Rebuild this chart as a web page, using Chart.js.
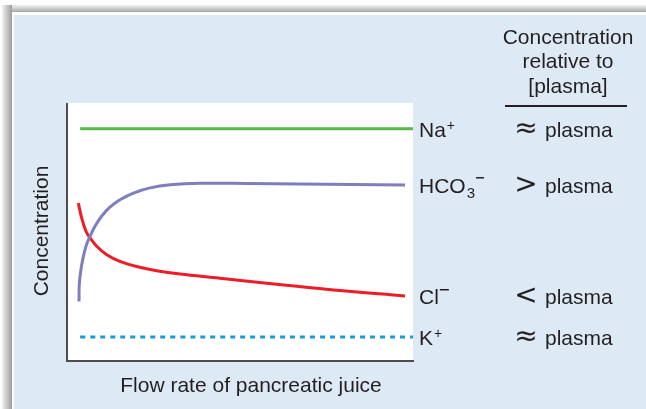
<!DOCTYPE html>
<html>
<head>
<meta charset="utf-8">
<title>Pancreatic juice electrolytes</title>
<script src="https://cdn.jsdelivr.net/npm/chart.js@4"></script>
<style>
    html, body { margin: 0; padding: 0; background: #fff; }
    canvas { display: block; }
</style>
</head>
<body>
<canvas id="ionChart" width="646" height="409"></canvas>
<script>
// Flow rate (x, arbitrary units 0-100) and concentration (y, arbitrary units 0-100)
const naFlow = [3.8, 100];
const naConc = [90, 90];

const hco3Flow = [3.47, 3.55, 3.96, 4.54, 5.49, 6.65, 8.09, 10.0, 12.4, 15.3, 19.2, 24.0, 29.8, 38.4, 52.9, 67.3, 97.7];
const hco3Conc = [23.1, 29.6, 34.8, 39.3, 44.5, 48.3, 52.2, 56.1, 59.6, 62.5, 65.1, 67.1, 68.3, 68.9, 68.8, 68.6, 68.2];

const clFlow = [3.27, 4.25, 5.49, 6.65, 8.58, 11.5, 15.3, 20.1, 25.9, 32.7, 44.2, 57.7, 77.0, 97.7];
const clConc = [61.2, 55.4, 50.3, 47.7, 44.5, 41.2, 38.6, 36.6, 35.0, 33.7, 32.1, 30.1, 27.5, 25.2];

const kFlow = [3.8, 100];
const kConc = [9.3, 9.3];

// Right hand column: ion name and how it compares to plasma
const ionNames = ['Na', 'HCO', 'Cl', 'K'];
const ionCompare = ['\u2248', '>', '<', '\u2248'];
const headerLines = ['Concentration', 'relative to', '[plasma]'];

const FONT = '"Liberation Sans", Arial, sans-serif';
const TEXT = '#231f20';

function toPoints(xs, ys) {
    return xs.map((x, i) => ({ x: x, y: ys[i] }));
}

// background panel, white plot box and the two axis lines
const panelPlugin = {
    id: 'panel',
    beforeDraw(chart) {
        const ctx = chart.ctx;
        const a = chart.chartArea;
        ctx.save();
        ctx.fillStyle = '#fff';
        ctx.fillRect(0, 0, chart.width, chart.height);

        // soft grey frame on the top and left
        let g = ctx.createLinearGradient(2, 0, 12, 0);
        g.addColorStop(0, '#f2f2f2');
        g.addColorStop(1, '#9c9c9c');
        ctx.fillStyle = g;
        ctx.fillRect(2, 5, 10, chart.height - 5);
        g = ctx.createLinearGradient(0, 5, 0, 12);
        g.addColorStop(0, '#f2f2f2');
        g.addColorStop(1, '#a8a8a8');
        ctx.fillStyle = g;
        ctx.fillRect(12, 5, chart.width - 12, 7);

        ctx.fillStyle = '#dde9f5';
        ctx.fillRect(14, 15, chart.width - 14, chart.height - 15);

        ctx.fillStyle = '#fff';
        ctx.fillRect(a.left, a.top, a.right - a.left, a.bottom - a.top);

        ctx.strokeStyle = '#4d4d4d';
        ctx.lineWidth = 2;
        ctx.beginPath();
        ctx.moveTo(a.left, a.top);
        ctx.lineTo(a.left, a.bottom);
        ctx.lineTo(a.right + 1, a.bottom);
        ctx.stroke();
        ctx.restore();
    }
};

// axis titles, ion labels and the comparison column
const labelPlugin = {
    id: 'labels',
    afterDraw(chart) {
        const ctx = chart.ctx;
        const a = chart.chartArea;
        const y = chart.scales.y;
        ctx.save();
        ctx.fillStyle = TEXT;
        ctx.font = '21px ' + FONT;

        // x title
        ctx.textAlign = 'center';
        ctx.textBaseline = 'middle';
        ctx.fillText('Flow rate of pancreatic juice', 251, 386);

        // y title
        ctx.save();
        ctx.translate(42, 231);
        ctx.rotate(-Math.PI / 2);
        ctx.fillText('Concentration', 0, 0);
        ctx.restore();

        // header of the right column
        headerLines.forEach((t, i) => ctx.fillText(t, 568, 38 + i * 24.5));
        ctx.strokeStyle = TEXT;
        ctx.lineWidth = 2;
        ctx.beginPath();
        ctx.moveTo(505, 106);
        ctx.lineTo(627, 106);
        ctx.stroke();

        const ends = [naConc, hco3Conc, clConc, kConc].map(arr => y.getPixelForValue(arr[arr.length - 1]));
        const lx = a.right + 6;
        ctx.textAlign = 'left';
        ctx.textBaseline = 'alphabetic';
        ends.forEach((py, i) => {
            const base = py + 8;
            ctx.font = '21px ' + FONT;
            ctx.fillText(ionNames[i], lx, base);
            let w = ctx.measureText(ionNames[i]).width;
            if (i === 1) {
                // HCO3- : subscript 3 then a raised minus
                ctx.font = '15px ' + FONT;
                ctx.fillText('3', lx + w + 1, base + 5);
                w += ctx.measureText('3').width + 2;
                ctx.fillRect(lx + w, base - 16, 8, 1.5);
            } else if (i === 2) {
                ctx.fillRect(lx + w + 1, base - 15, 9, 1.5);
            } else {
                ctx.font = '14px ' + FONT;
                ctx.fillText('+', lx + w + 1, base - 7);
            }

            ctx.font = '21px ' + FONT;
            ctx.fillText('plasma', 545, base);

            ctx.font = '28px "DejaVu Sans", sans-serif';
            ctx.textAlign = 'center';
            ctx.textBaseline = 'middle';
            ctx.fillText(ionCompare[i], 526, py + 1);
            ctx.textAlign = 'left';
            ctx.textBaseline = 'alphabetic';
        });
        ctx.restore();
    }
};

const lineStyle = {
    borderWidth: 3,
    pointRadius: 0,
    fill: false,
    tension: 0.4
};

const ctx = document.getElementById('ionChart').getContext('2d');
const ionChart = new Chart(ctx, {
    type: 'line',
    data: {
        datasets: [
            Object.assign({ label: 'Na+', data: toPoints(naFlow, naConc), borderColor: '#57b947' }, lineStyle),
            Object.assign({ label: 'HCO3-', data: toPoints(hco3Flow, hco3Conc), borderColor: '#7e7ebe' }, lineStyle),
            Object.assign({ label: 'Cl-', data: toPoints(clFlow, clConc), borderColor: '#ee1c25' }, lineStyle),
            Object.assign({ label: 'K+', data: toPoints(kFlow, kConc), borderColor: '#1a9ad7', borderDash: [5, 5] }, lineStyle)
        ]
    },
    options: {
        responsive: false,
        animation: false,
        devicePixelRatio: 1,
        layout: { padding: { left: 67, right: 233, top: 103, bottom: 48 } },
        plugins: { legend: { display: false }, tooltip: { enabled: false } },
        scales: {
            x: { type: 'linear', min: 0, max: 100, display: false },
            y: { min: 0, max: 100, display: false }
        }
    },
    plugins: [panelPlugin, labelPlugin]
});
</script>
</body>
</html>
